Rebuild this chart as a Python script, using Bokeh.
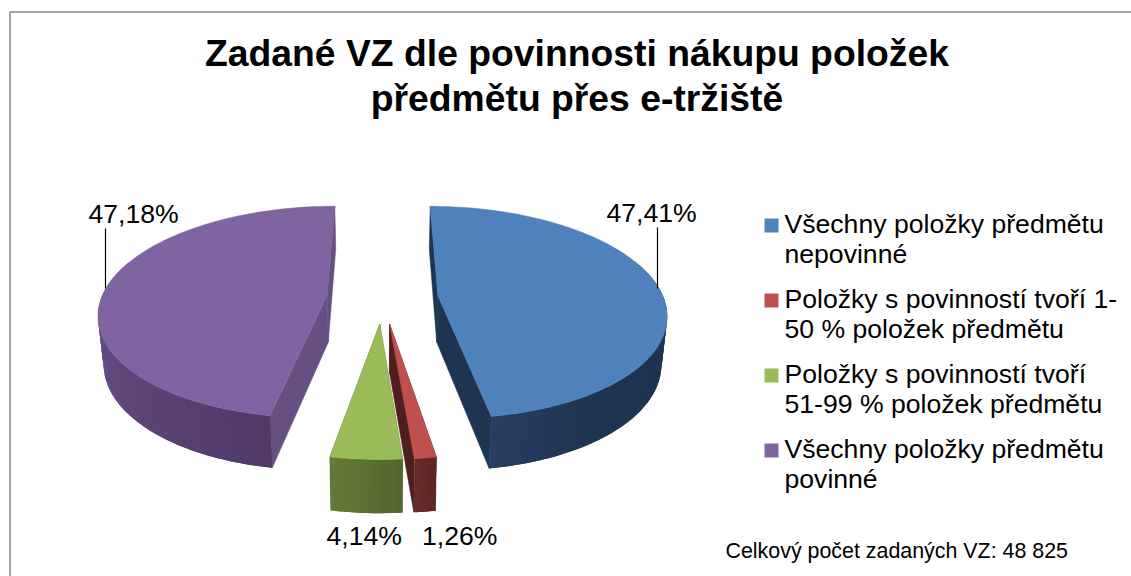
import math
from bokeh.plotting import figure
from bokeh.models import Range1d
from bokeh.core.properties import value
from bokeh.embed import file_html
from bokeh.resources import INLINE

# --- data ---
title_lines = ["Zadané VZ dle povinnosti nákupu položek", "předmětu přes e-tržiště"]
categories = [
    ["Všechny položky předmětu", "nepovinné"],
    ["Položky s povinností tvoří 1-", "50 % položek předmětu"],
    ["Položky s povinností tvoří", "51-99 % položek předmětu"],
    ["Všechny položky předmětu", "povinné"],
]
shares = [47.41, 1.26, 4.14, 47.18]
share_labels = ["47,41%", "1,26%", "4,14%", "47,18%"]
footer = "Celkový počet zadaných VZ: 48 825"
top_colors = ["#4f81bd", "#c0504d", "#9bbb59", "#8064a2"]
side_colors = ["#1f3450", "#4f1f1f", "#4d5f2c", "#665081"]
wall_from = ["#273d62", "#6b2b2a", "#667a38", "#715693"]
wall_to = ["#1f3450", "#5e2626", "#556631", "#503a68"]

# --- projection of the 3-D pie ---
X0, Y0 = 382.0, 297.0
RX, RY, K = 225.5, 104.0, 0.16
EXPLODE = 0.247
DEPTH, DEPTH_K, SHRINK = 47.0, 0.10, 0.98
FONT = value("Liberation Sans")
INK = "#000000"
BASE_SHIFT = 0.36  # places the glyphs' baseline on the given y


def project(u, v, low=False):
    w = 1 - K * v
    x = X0 + RX * u / w
    y = Y0 + RY * v / w
    if low:
        x = X0 + (x - X0) * SHRINK
        y = y + DEPTH / (1 - DEPTH_K * v)
    return x, y


def hex_mix(a, b, t):
    ca = [int(a[i:i + 2], 16) for i in (1, 3, 5)]
    cb = [int(b[i:i + 2], 16) for i in (1, 3, 5)]
    return "#%02x%02x%02x" % tuple(round(p + (q - p) * t) for p, q in zip(ca, cb))


p = figure(width=1131, height=576, output_backend="svg", toolbar_location=None,
           x_range=Range1d(0, 1131), y_range=Range1d(576, 0), min_border=0,
           outline_line_color=None, background_fill_color="white")
p.xaxis.visible = False
p.yaxis.visible = False
p.grid.visible = False


def label(x, base, txt, size, align="left", style="normal"):
    p.text([x], [base - BASE_SHIFT * size], text=[txt], text_font=FONT, text_font_size=f"{size}px",
           text_font_style=style, text_color=INK, text_align=align, text_baseline="alphabetic")


# chart frame
p.line([9.5, 9.5], [576, 11.5], line_color="#868686", line_width=1.5)
p.line([9.5, 1131], [11.5, 11.5], line_color="#868686", line_width=1.5)

# slices
bounds = [0.0]
for s in shares:
    bounds.append(bounds[-1] + s / sum(shares) * 2 * math.pi)

for i in [3, 0, 1, 2]:
    a0, a1 = bounds[i], bounds[i + 1]
    mid = (a0 + a1) / 2
    du, dv = EXPLODE * math.sin(mid), -EXPLODE * math.cos(mid)
    n = max(8, int((a1 - a0) * 40))
    angs = [a0 + (a1 - a0) * j / n for j in range(n + 1)]
    rim = [(math.sin(a) + du, -math.cos(a) + dv) for a in angs]
    # inner walls
    for r in (rim[0], rim[-1]):
        pts = [project(du, dv), project(*r), project(*r, True), project(du, dv, True)]
        p.patch([q[0] for q in pts], [q[1] for q in pts], fill_color=side_colors[i],
                line_color=side_colors[i], line_width=0.5)
    # rim wall: shaded strips, each overlapping the next so no seams show
    vis = [j for j, r in enumerate(rim) if r[1] > -0.35]
    lo, hi = min(vis), max(vis)
    order = range(lo, min(hi, n - 1) + 1) if i == 0 else range(min(hi, n - 1), lo - 1, -1)
    for j in order:
        t = (j - lo) / max(1, hi - lo)
        if i == 0:
            t = min(1.0, (1 - t) * 3.5)
        else:
            t = 1 - t
        col = hex_mix(wall_from[i], wall_to[i], t)
        if i == 0:
            seg = rim[j:min(j + 3, n + 1)]
        else:
            seg = rim[max(j - 1, 0):j + 2]
        pts = [project(*r) for r in seg] + [project(*r, True) for r in reversed(seg)]
        p.patch([q[0] for q in pts], [q[1] for q in pts], fill_color=col, line_color=None)
    # top face
    pts = [project(du, dv)] + [project(*r) for r in rim]
    p.patch([q[0] for q in pts], [q[1] for q in pts], fill_color=top_colors[i],
            line_color=top_colors[i], line_width=0.5)

# data labels and leaders
label_pos = [(606, 222), (421.5, 545), (326, 545), (88, 223)]
for lab, (lx, ly) in zip(share_labels, label_pos):
    label(lx, ly, lab, 26.6)
for lx, y0, y1 in [(657, 227, 288), (105, 228, 288)]:
    p.line([lx, lx], [y0, y1], line_color=INK, line_width=1.2)

# title
for line, by in zip(title_lines, (66, 111)):
    label(576.5, by, line, 37.3, align="center", style="bold")

# legend
for k, (cat, col) in enumerate(zip(categories, top_colors)):
    top = 218 + 75 * k
    p.quad(left=[764], right=[778], top=[top], bottom=[top + 14], fill_color=col, line_color=None)
    for m, line in enumerate(cat):
        label(784, 233 + 75 * k + 30 * m, line, 26.6)

label(725, 558, footer, 21.4)

open("out.html", "w").write(file_html(p, INLINE))
